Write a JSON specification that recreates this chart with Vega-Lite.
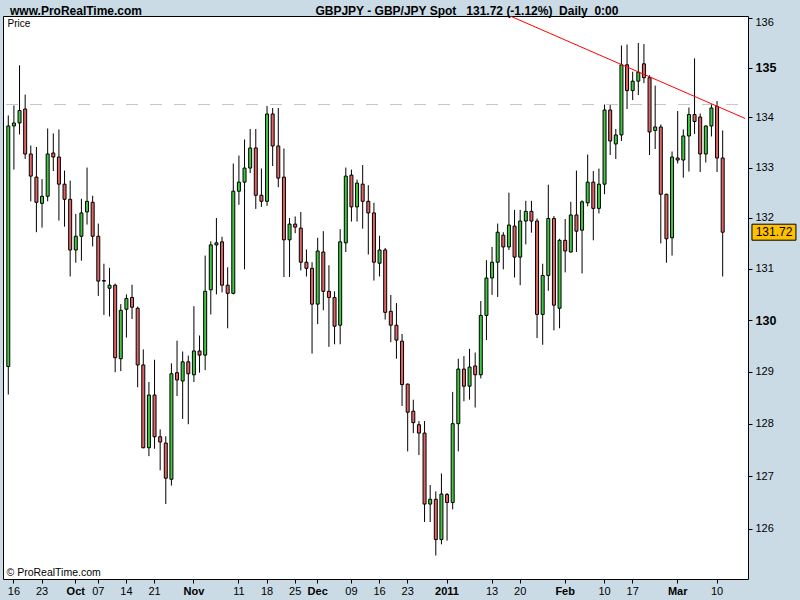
{
  "$schema": "https://vega.github.io/schema/vega-lite/v6.json",
  "width": 745,
  "height": 563,
  "autosize": {"type": "none"},
  "padding": {"left": 3, "top": 16, "right": 52, "bottom": 21},
  "background": "#cbdbe5",
  "view": {"fill": "#ffffff", "stroke": "#000000", "strokeWidth": 1},
  "title": {
    "text": "www.ProRealTime.com\u00a0\u00a0\u00a0\u00a0\u00a0\u00a0\u00a0\u00a0\u00a0\u00a0\u00a0\u00a0\u00a0\u00a0\u00a0\u00a0\u00a0\u00a0\u00a0\u00a0\u00a0\u00a0\u00a0\u00a0\u00a0\u00a0\u00a0\u00a0\u00a0\u00a0\u00a0\u00a0\u00a0\u00a0\u00a0\u00a0\u00a0\u00a0\u00a0\u00a0\u00a0\u00a0\u00a0\u00a0\u00a0\u00a0\u00a0\u00a0\u00a0\u00a0\u00a0\u00a0GBPJPY - GBP/JPY Spot\u00a0\u00a0\u00a0131.72 (-1.12%)\u00a0\u00a0Daily\u00a0\u00a00:00",
    "anchor": "start",
    "frame": "group",
    "dx": 7,
    "offset": -11,
    "baseline": "alphabetic",
    "font": "Liberation Sans",
    "fontSize": 12,
    "fontWeight": "bold",
    "color": "#000000"
  },
  "config": {
    "axis": {
      "domain": false,
      "grid": false,
      "tickColor": "#000000",
      "tickWidth": 1,
      "labelColor": "#000000",
      "labelFont": "Liberation Sans",
      "titleFont": "Liberation Sans",
      "titleColor": "#000000"
    }
  },
  "datasets": {
    "ohlc": [
      {"d": "2010-09-15", "o": 129.10, "h": 134.04, "l": 128.56, "c": 133.83},
      {"d": "2010-09-16", "o": 133.83, "h": 134.24, "l": 132.96, "c": 133.89},
      {"d": "2010-09-17", "o": 133.89, "h": 135.05, "l": 133.66, "c": 134.14},
      {"d": "2010-09-20", "o": 134.17, "h": 134.46, "l": 133.17, "c": 133.27},
      {"d": "2010-09-21", "o": 133.27, "h": 133.44, "l": 132.33, "c": 132.83},
      {"d": "2010-09-22", "o": 132.81, "h": 133.41, "l": 131.72, "c": 132.31},
      {"d": "2010-09-23", "o": 132.29, "h": 132.77, "l": 131.81, "c": 132.43},
      {"d": "2010-09-24", "o": 132.43, "h": 133.78, "l": 132.33, "c": 133.27},
      {"d": "2010-09-27", "o": 133.29, "h": 133.68, "l": 132.93, "c": 133.21},
      {"d": "2010-09-28", "o": 133.21, "h": 133.76, "l": 131.95, "c": 132.67},
      {"d": "2010-09-29", "o": 132.67, "h": 132.94, "l": 131.83, "c": 132.37},
      {"d": "2010-09-30", "o": 132.37, "h": 132.74, "l": 130.85, "c": 131.37},
      {"d": "2010-10-01", "o": 131.37, "h": 132.08, "l": 131.12, "c": 131.64},
      {"d": "2010-10-04", "o": 131.64, "h": 132.38, "l": 131.16, "c": 132.10},
      {"d": "2010-10-05", "o": 132.12, "h": 133.00, "l": 131.87, "c": 132.33},
      {"d": "2010-10-06", "o": 132.31, "h": 132.44, "l": 131.44, "c": 131.64},
      {"d": "2010-10-07", "o": 131.64, "h": 131.89, "l": 130.47, "c": 130.76},
      {"d": "2010-10-08", "o": 130.77, "h": 131.10, "l": 130.10, "c": 130.76},
      {"d": "2010-10-11", "o": 130.62, "h": 131.02, "l": 130.07, "c": 130.68},
      {"d": "2010-10-12", "o": 130.68, "h": 130.71, "l": 128.99, "c": 129.27},
      {"d": "2010-10-13", "o": 129.25, "h": 130.31, "l": 129.01, "c": 130.19},
      {"d": "2010-10-14", "o": 130.21, "h": 130.50, "l": 129.66, "c": 130.42},
      {"d": "2010-10-15", "o": 130.44, "h": 130.69, "l": 130.02, "c": 130.25},
      {"d": "2010-10-18", "o": 130.23, "h": 130.26, "l": 128.70, "c": 129.13},
      {"d": "2010-10-19", "o": 129.13, "h": 129.43, "l": 127.53, "c": 127.54},
      {"d": "2010-10-20", "o": 127.54, "h": 128.80, "l": 127.38, "c": 128.55},
      {"d": "2010-10-21", "o": 128.55, "h": 129.23, "l": 127.52, "c": 127.75},
      {"d": "2010-10-22", "o": 127.75, "h": 127.89, "l": 127.11, "c": 127.65},
      {"d": "2010-10-25", "o": 127.63, "h": 127.76, "l": 126.47, "c": 126.96},
      {"d": "2010-10-26", "o": 126.94, "h": 129.16, "l": 126.82, "c": 128.96},
      {"d": "2010-10-27", "o": 128.98, "h": 129.60, "l": 128.53, "c": 128.84},
      {"d": "2010-10-28", "o": 128.82, "h": 129.39, "l": 128.09, "c": 129.19},
      {"d": "2010-10-29", "o": 129.19, "h": 129.31, "l": 127.99, "c": 128.96},
      {"d": "2010-11-01", "o": 128.94, "h": 130.27, "l": 128.80, "c": 129.40},
      {"d": "2010-11-02", "o": 129.40, "h": 129.70, "l": 128.98, "c": 129.32},
      {"d": "2010-11-03", "o": 129.32, "h": 131.26, "l": 129.03, "c": 130.56},
      {"d": "2010-11-04", "o": 130.59, "h": 131.54, "l": 130.11, "c": 131.47},
      {"d": "2010-11-05", "o": 131.47, "h": 132.00, "l": 130.50, "c": 131.51},
      {"d": "2010-11-08", "o": 131.53, "h": 131.63, "l": 130.54, "c": 130.68},
      {"d": "2010-11-09", "o": 130.68, "h": 131.03, "l": 129.84, "c": 130.52},
      {"d": "2010-11-10", "o": 130.52, "h": 133.08, "l": 130.50, "c": 132.53},
      {"d": "2010-11-11", "o": 132.53, "h": 133.24, "l": 132.26, "c": 132.71},
      {"d": "2010-11-12", "o": 132.71, "h": 133.56, "l": 130.99, "c": 132.99},
      {"d": "2010-11-15", "o": 132.99, "h": 133.77, "l": 132.89, "c": 133.39},
      {"d": "2010-11-16", "o": 133.39, "h": 133.77, "l": 132.18, "c": 132.45},
      {"d": "2010-11-17", "o": 132.45, "h": 132.98, "l": 132.22, "c": 132.33},
      {"d": "2010-11-18", "o": 132.33, "h": 134.23, "l": 132.24, "c": 134.07},
      {"d": "2010-11-19", "o": 134.07, "h": 134.19, "l": 133.03, "c": 133.43},
      {"d": "2010-11-22", "o": 133.43, "h": 134.19, "l": 132.61, "c": 132.79},
      {"d": "2010-11-23", "o": 132.81, "h": 133.38, "l": 130.84, "c": 131.57},
      {"d": "2010-11-24", "o": 131.57, "h": 132.00, "l": 130.84, "c": 131.88},
      {"d": "2010-11-25", "o": 131.88, "h": 132.03, "l": 131.70, "c": 131.82},
      {"d": "2010-11-26", "o": 131.80, "h": 132.12, "l": 130.97, "c": 131.13},
      {"d": "2010-11-29", "o": 131.13, "h": 131.38, "l": 130.85, "c": 131.01},
      {"d": "2010-11-30", "o": 131.01, "h": 131.13, "l": 129.35, "c": 130.31},
      {"d": "2010-12-01", "o": 130.31, "h": 131.61, "l": 129.92, "c": 131.35},
      {"d": "2010-12-02", "o": 131.33, "h": 131.74, "l": 130.19, "c": 130.56},
      {"d": "2010-12-03", "o": 130.56, "h": 131.07, "l": 129.48, "c": 130.44},
      {"d": "2010-12-06", "o": 130.44, "h": 130.56, "l": 129.53, "c": 129.88},
      {"d": "2010-12-07", "o": 129.90, "h": 131.78, "l": 129.53, "c": 131.53},
      {"d": "2010-12-08", "o": 131.51, "h": 133.00, "l": 131.33, "c": 132.83},
      {"d": "2010-12-09", "o": 132.85, "h": 132.96, "l": 131.93, "c": 132.22},
      {"d": "2010-12-10", "o": 132.22, "h": 132.76, "l": 131.93, "c": 132.69},
      {"d": "2010-12-13", "o": 132.67, "h": 133.05, "l": 131.79, "c": 132.33},
      {"d": "2010-12-14", "o": 132.33, "h": 132.65, "l": 131.28, "c": 132.10},
      {"d": "2010-12-15", "o": 132.10, "h": 132.30, "l": 130.77, "c": 131.13},
      {"d": "2010-12-16", "o": 131.11, "h": 131.65, "l": 130.85, "c": 131.37},
      {"d": "2010-12-17", "o": 131.37, "h": 131.41, "l": 130.01, "c": 130.15},
      {"d": "2010-12-20", "o": 130.17, "h": 130.49, "l": 129.57, "c": 129.90},
      {"d": "2010-12-21", "o": 129.90, "h": 130.33, "l": 129.25, "c": 129.61},
      {"d": "2010-12-22", "o": 129.59, "h": 129.73, "l": 128.34, "c": 128.75},
      {"d": "2010-12-23", "o": 128.76, "h": 128.77, "l": 127.47, "c": 128.22},
      {"d": "2010-12-24", "o": 128.24, "h": 128.46, "l": 127.82, "c": 128.02},
      {"d": "2010-12-27", "o": 127.98, "h": 128.05, "l": 127.40, "c": 127.82},
      {"d": "2010-12-28", "o": 127.82, "h": 128.05, "l": 126.13, "c": 126.47},
      {"d": "2010-12-29", "o": 126.47, "h": 126.83, "l": 126.13, "c": 126.56},
      {"d": "2010-12-30", "o": 126.56, "h": 126.71, "l": 125.50, "c": 125.80},
      {"d": "2010-12-31", "o": 125.80, "h": 127.05, "l": 125.71, "c": 126.66},
      {"d": "2011-01-03", "o": 126.65, "h": 126.68, "l": 125.78, "c": 126.50},
      {"d": "2011-01-04", "o": 126.50, "h": 128.61, "l": 126.37, "c": 128.00},
      {"d": "2011-01-05", "o": 128.00, "h": 129.25, "l": 127.47, "c": 129.05},
      {"d": "2011-01-06", "o": 129.05, "h": 129.30, "l": 128.43, "c": 128.72},
      {"d": "2011-01-07", "o": 128.72, "h": 129.44, "l": 128.46, "c": 129.09},
      {"d": "2011-01-10", "o": 129.11, "h": 129.37, "l": 128.31, "c": 128.94},
      {"d": "2011-01-11", "o": 128.94, "h": 130.37, "l": 128.87, "c": 130.09},
      {"d": "2011-01-12", "o": 130.09, "h": 131.17, "l": 129.61, "c": 130.82},
      {"d": "2011-01-13", "o": 130.82, "h": 131.43, "l": 130.49, "c": 131.13},
      {"d": "2011-01-14", "o": 131.13, "h": 131.89, "l": 130.45, "c": 131.72},
      {"d": "2011-01-17", "o": 131.66, "h": 131.72, "l": 130.99, "c": 131.43},
      {"d": "2011-01-18", "o": 131.43, "h": 132.50, "l": 131.37, "c": 131.86},
      {"d": "2011-01-19", "o": 131.84, "h": 132.16, "l": 130.83, "c": 131.23},
      {"d": "2011-01-20", "o": 131.23, "h": 132.16, "l": 130.68, "c": 131.94},
      {"d": "2011-01-21", "o": 131.94, "h": 132.34, "l": 131.48, "c": 132.13},
      {"d": "2011-01-24", "o": 132.13, "h": 132.34, "l": 131.71, "c": 131.94},
      {"d": "2011-01-25", "o": 131.94, "h": 131.99, "l": 129.65, "c": 130.11},
      {"d": "2011-01-26", "o": 130.11, "h": 131.10, "l": 129.52, "c": 130.87},
      {"d": "2011-01-27", "o": 130.87, "h": 132.66, "l": 130.57, "c": 131.99},
      {"d": "2011-01-28", "o": 131.99, "h": 132.04, "l": 129.80, "c": 130.29},
      {"d": "2011-01-31", "o": 130.23, "h": 131.59, "l": 129.84, "c": 131.56},
      {"d": "2011-02-01", "o": 131.56, "h": 131.98, "l": 130.93, "c": 131.35},
      {"d": "2011-02-02", "o": 131.33, "h": 132.32, "l": 131.32, "c": 132.06},
      {"d": "2011-02-03", "o": 132.06, "h": 132.94, "l": 131.33, "c": 131.74},
      {"d": "2011-02-04", "o": 131.76, "h": 132.35, "l": 130.91, "c": 132.32},
      {"d": "2011-02-07", "o": 132.30, "h": 133.26, "l": 132.23, "c": 132.71},
      {"d": "2011-02-08", "o": 132.71, "h": 132.93, "l": 131.56, "c": 132.19},
      {"d": "2011-02-09", "o": 132.19, "h": 132.98, "l": 132.09, "c": 132.67},
      {"d": "2011-02-10", "o": 132.67, "h": 134.26, "l": 132.47, "c": 134.15},
      {"d": "2011-02-11", "o": 134.15, "h": 134.25, "l": 133.25, "c": 133.53},
      {"d": "2011-02-14", "o": 133.47, "h": 133.77, "l": 133.17, "c": 133.65},
      {"d": "2011-02-15", "o": 133.65, "h": 135.45, "l": 133.53, "c": 135.06},
      {"d": "2011-02-16", "o": 135.06, "h": 135.47, "l": 134.17, "c": 134.54},
      {"d": "2011-02-17", "o": 134.54, "h": 134.92, "l": 134.35, "c": 134.73},
      {"d": "2011-02-18", "o": 134.73, "h": 135.50, "l": 134.45, "c": 134.91},
      {"d": "2011-02-21", "o": 135.08, "h": 135.48, "l": 134.69, "c": 134.80},
      {"d": "2011-02-22", "o": 134.80, "h": 134.85, "l": 133.25, "c": 133.71},
      {"d": "2011-02-23", "o": 133.74, "h": 134.64, "l": 133.37, "c": 133.81},
      {"d": "2011-02-24", "o": 133.81, "h": 133.86, "l": 131.50, "c": 132.47},
      {"d": "2011-02-25", "o": 132.47, "h": 132.48, "l": 131.12, "c": 131.59},
      {"d": "2011-02-28", "o": 131.61, "h": 133.32, "l": 131.26, "c": 133.21},
      {"d": "2011-03-01", "o": 133.19, "h": 134.13, "l": 133.08, "c": 133.15},
      {"d": "2011-03-02", "o": 133.15, "h": 133.76, "l": 132.80, "c": 133.63},
      {"d": "2011-03-03", "o": 133.63, "h": 134.20, "l": 132.92, "c": 134.06},
      {"d": "2011-03-04", "o": 134.06, "h": 135.19, "l": 133.67, "c": 133.92},
      {"d": "2011-03-07", "o": 134.01, "h": 134.08, "l": 132.91, "c": 133.27},
      {"d": "2011-03-08", "o": 133.27, "h": 133.84, "l": 133.10, "c": 133.83},
      {"d": "2011-03-09", "o": 133.83, "h": 134.26, "l": 133.62, "c": 134.19},
      {"d": "2011-03-10", "o": 134.22, "h": 134.33, "l": 132.91, "c": 133.19},
      {"d": "2011-03-11", "o": 133.19, "h": 133.74, "l": 130.85, "c": 131.72}
    ]
  },
  "layer": [
    {
      "data": {"values": [{"level": 134.26}]},
      "mark": {"type": "rule", "color": "#c8c8c8", "strokeWidth": 1, "strokeDash": [12, 12], "strokeDashOffset": 14},
      "encoding": {
        "y": {"field": "level", "type": "quantitative", "title": "Price", "scale": {"type": "log", "domain": [125.06, 136.05], "nice": false}}
      }
    },
    {
      "data": {"name": "ohlc"},
      "mark": {"type": "rule", "color": "#000000", "strokeWidth": 1},
      "encoding": {
        "x": {
          "field": "d",
          "type": "ordinal",
          "title": "© ProRealTime.com",
          "scale": {
            "type": "band",
            "paddingInner": 0,
            "paddingOuter": 0.22,
            "align": 1,
            "domain": ["2010-09-15","2010-09-16","2010-09-17","2010-09-20","2010-09-21","2010-09-22","2010-09-23","2010-09-24","2010-09-27","2010-09-28","2010-09-29","2010-09-30",
              "2010-10-01","2010-10-04","2010-10-05","2010-10-06","2010-10-07","2010-10-08","2010-10-11","2010-10-12","2010-10-13","2010-10-14","2010-10-15","2010-10-18","2010-10-19","2010-10-20","2010-10-21","2010-10-22","2010-10-25","2010-10-26","2010-10-27","2010-10-28","2010-10-29",
              "2010-11-01","2010-11-02","2010-11-03","2010-11-04","2010-11-05","2010-11-08","2010-11-09","2010-11-10","2010-11-11","2010-11-12","2010-11-15","2010-11-16","2010-11-17","2010-11-18","2010-11-19","2010-11-22","2010-11-23","2010-11-24","2010-11-25","2010-11-26","2010-11-29","2010-11-30",
              "2010-12-01","2010-12-02","2010-12-03","2010-12-06","2010-12-07","2010-12-08","2010-12-09","2010-12-10","2010-12-13","2010-12-14","2010-12-15","2010-12-16","2010-12-17","2010-12-20","2010-12-21","2010-12-22","2010-12-23","2010-12-24","2010-12-27","2010-12-28","2010-12-29","2010-12-30","2010-12-31",
              "2011-01-03","2011-01-04","2011-01-05","2011-01-06","2011-01-07","2011-01-10","2011-01-11","2011-01-12","2011-01-13","2011-01-14","2011-01-17","2011-01-18","2011-01-19","2011-01-20","2011-01-21","2011-01-24","2011-01-25","2011-01-26","2011-01-27","2011-01-28","2011-01-31",
              "2011-02-01","2011-02-02","2011-02-03","2011-02-04","2011-02-07","2011-02-08","2011-02-09","2011-02-10","2011-02-11","2011-02-14","2011-02-15","2011-02-16","2011-02-17","2011-02-18","2011-02-21","2011-02-22","2011-02-23","2011-02-24","2011-02-25","2011-02-28",
              "2011-03-01","2011-03-02","2011-03-03","2011-03-04","2011-03-07","2011-03-08","2011-03-09","2011-03-10","2011-03-11","2011-03-14","2011-03-15","2011-03-16","2011-03-17"]
          },
          "axis": {
            "values": ["2010-09-16","2010-09-23","2010-10-01","2010-10-07","2010-10-14","2010-10-21","2010-11-01","2010-11-11","2010-11-18","2010-11-25","2010-12-01","2010-12-09","2010-12-16","2010-12-23","2011-01-03","2011-01-13","2011-01-20","2011-02-01","2011-02-10","2011-02-17","2011-03-01","2011-03-10"],
            "labelExpr": "datum.value == '2010-10-01' ? 'Oct' : datum.value == '2010-11-01' ? 'Nov' : datum.value == '2010-12-01' ? 'Dec' : datum.value == '2011-01-03' ? '2011' : datum.value == '2011-02-01' ? 'Feb' : datum.value == '2011-03-01' ? 'Mar' : slice(datum.value, 8)",
            "labelAngle": 0,
            "labelOverlap": false,
            "labelFontSize": 11,
            "labelFontWeight": {"condition": {"test": "indexof(['2010-10-01','2010-11-01','2010-12-01','2011-01-03','2011-02-01','2011-03-01'], datum.value) >= 0", "value": "bold"}, "value": "normal"},
            "tickSize": 4,
            "labelPadding": 2,
            "titleX": 3,
            "titleY": -2,
            "titleAlign": "left",
            "titleBaseline": "bottom",
            "titleFontSize": 10.5,
            "titleFontWeight": "normal"
          }
        },
        "y": {
          "field": "l",
          "type": "quantitative",
          "title": "Price",
          "scale": {"type": "log", "domain": [125.06, 136.05], "nice": false},
          "axis": {
            "orient": "right",
            "values": [126, 127, 128, 129, 130, 131, 132, 133, 134, 135, 136],
            "format": "d",
            "tickSize": 4,
            "labelPadding": 3,
            "labelOffset": {"condition": {"test": "datum.value == 136", "value": 4}, "value": 0},
            "labelFontSize": {"condition": {"test": "datum.value == 130 || datum.value == 135", "value": 12.5}, "value": 11},
            "labelFontWeight": {"condition": {"test": "datum.value == 130 || datum.value == 135", "value": "bold"}, "value": "normal"},
            "titleX": -741,
            "titleY": 12,
            "titleAngle": 0,
            "titleAlign": "left",
            "titleBaseline": "bottom",
            "titleFontSize": 10,
            "titleFontWeight": "normal"
          }
        },
        "y2": {"field": "h"}
      }
    },
    {
      "data": {"name": "ohlc"},
      "mark": {"type": "bar", "width": 3, "stroke": "#000000", "strokeWidth": 1},
      "encoding": {
        "x": {"field": "d", "type": "ordinal", "title": "© ProRealTime.com"},
        "y": {"field": "o", "type": "quantitative", "title": "Price", "scale": {"type": "log", "domain": [125.06, 136.05], "nice": false}},
        "y2": {"field": "c"},
        "fill": {"condition": {"test": "datum.c >= datum.o", "value": "#40c840"}, "value": "#e06464"}
      }
    },
    {
      "data": {"values": [{"d": "2011-01-18", "p": 136.06}, {"d": "2011-03-17", "p": 133.98}]},
      "mark": {"type": "line", "color": "#ff0000", "strokeWidth": 1, "clip": true},
      "encoding": {
        "x": {"field": "d", "type": "ordinal", "title": "© ProRealTime.com"},
        "y": {"field": "p", "type": "quantitative", "title": "Price", "scale": {"type": "log", "domain": [125.06, 136.05], "nice": false}}
      }
    },
    {
      "data": {"name": "ohlc"},
      "transform": [{"filter": "datum.d == '2011-03-11'"}],
      "mark": {"type": "point", "shape": "M3.66,-1H9.16V1H3.66Z", "size": 256, "filled": true, "fill": "#ffc000", "stroke": "#000000", "strokeWidth": 1, "opacity": 1},
      "encoding": {
        "x": {"field": "d", "type": "ordinal", "title": "© ProRealTime.com"},
        "y": {"field": "c", "type": "quantitative", "title": "Price", "scale": {"type": "log", "domain": [125.06, 136.05], "nice": false}}
      }
    },
    {
      "data": {"name": "ohlc"},
      "transform": [{"filter": "datum.d == '2011-03-11'"}],
      "mark": {"type": "text", "align": "left", "baseline": "middle", "dx": 33, "fontSize": 12, "font": "Liberation Sans", "color": "#000000"},
      "encoding": {
        "x": {"field": "d", "type": "ordinal", "title": "© ProRealTime.com"},
        "y": {"field": "c", "type": "quantitative", "title": "Price", "scale": {"type": "log", "domain": [125.06, 136.05], "nice": false}},
        "text": {"field": "c", "type": "quantitative", "format": ".2f"}
      }
    }
  ]
}
